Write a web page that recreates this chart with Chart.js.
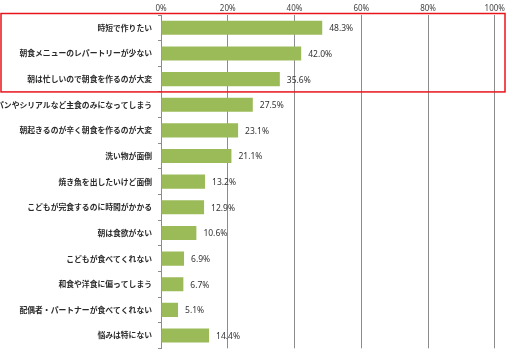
<!DOCTYPE html>
<html>
<head>
<meta charset="utf-8">
<script src="https://cdn.jsdelivr.net/npm/chart.js@4"></script>
<style>
  html, body { margin: 0; padding: 0; background: #fff; }
  #wrap { width: 506px; height: 359px; position: relative; }
</style>
</head>
<body>
<div id="wrap"><canvas id="barChartWorries"></canvas></div>
<script>
const categories = [
  "時短で作りたい",
  "朝食メニューのレパートリーが少ない",
  "朝は忙しいので朝食を作るのが大変",
  "パンやシリアルなど主食のみになってしまう",
  "朝起きるのが辛く朝食を作るのが大変",
  "洗い物が面倒",
  "焼き魚を出したいけど面倒",
  "こどもが完食するのに時間がかかる",
  "朝は食欲がない",
  "こどもが食べてくれない",
  "和食や洋食に偏ってしまう",
  "配偶者・パートナーが食べてくれない",
  "悩みは特にない",
];
const percents = [48.3, 42.0, 35.6, 27.5, 23.1, 21.1, 13.2, 12.9, 10.6, 6.9, 6.7, 5.1, 14.4];
const tickValues = [0, 20, 40, 60, 80, 100];
const highlightCount = 3;

const valueLabels = {
  id: "valueLabels",
  afterDatasetsDraw(chart) {
    const { ctx } = chart;
    const meta = chart.getDatasetMeta(0);
    ctx.save();
    ctx.font = "8.5px 'Noto Sans', sans-serif";
    ctx.fillStyle = "#333";
    ctx.textBaseline = "middle";
    meta.data.forEach((bar, index) => {
      ctx.fillText(percents[index].toFixed(1) + "%", bar.x + 7, bar.y + 1);
    });
    ctx.restore();
  },
};

const highlightBox = {
  id: "highlightBox",
  afterDraw(chart) {
    const { ctx } = chart;
    const y = chart.scales.y;
    const step = y.getPixelForValue(1) - y.getPixelForValue(0);
    const top = y.getPixelForValue(0) - step / 2 - 1.5;
    const bottom = y.getPixelForValue(highlightCount - 1) + step / 2;
    ctx.save();
    ctx.strokeStyle = "#e8141c";
    ctx.lineWidth = 1.5;
    ctx.strokeRect(1, top, chart.width - 2, bottom - top);
    ctx.restore();
  },
};

new Chart(document.getElementById("barChartWorries"), {
  type: "bar",
  data: {
    labels: categories,
    datasets: [
      {
        data: percents,
        backgroundColor: "#9bbb59",
        borderWidth: 0,
        barPercentage: 0.55,
        categoryPercentage: 1,
      },
    ],
  },
  options: {
    indexAxis: "y",
    responsive: true,
    maintainAspectRatio: false,
    animation: false,
    layout: { padding: { top: 0, right: 9, bottom: 6, left: 0 } },
    plugins: {
      legend: { display: false },
      tooltip: { enabled: false },
    },
    scales: {
      x: {
        position: "top",
        min: 0,
        max: 100,
        afterBuildTicks: (scale) => {
          scale.ticks = tickValues.map((v) => ({ value: v }));
        },
        ticks: {
          callback: (v) => v + "%",
          font: { size: 8, family: "'Noto Sans', sans-serif" },
          color: "#444",
          padding: 1,
          maxRotation: 0,
        },
        grid: { color: "#8c8c8c", lineWidth: 1, drawTicks: false, tickLength: 0 },
        border: { display: false },
        afterFit: (scale) => {
          scale.height = 15;
        },
      },
      y: {
        ticks: {
          font: { size: 7.8, weight: "bold", family: "'Noto Sans CJK JP', sans-serif" },
          color: "#2a2a2a",
          padding: 6,
          autoSkip: false,
        },
        grid: { drawOnChartArea: false, color: "#8c8c8c", tickLength: 3 },
        border: { color: "#8c8c8c" },
        afterFit: (scale) => {
          scale.width = 161;
        },
      },
    },
  },
  plugins: [valueLabels, highlightBox],
});
</script>
</body>
</html>
